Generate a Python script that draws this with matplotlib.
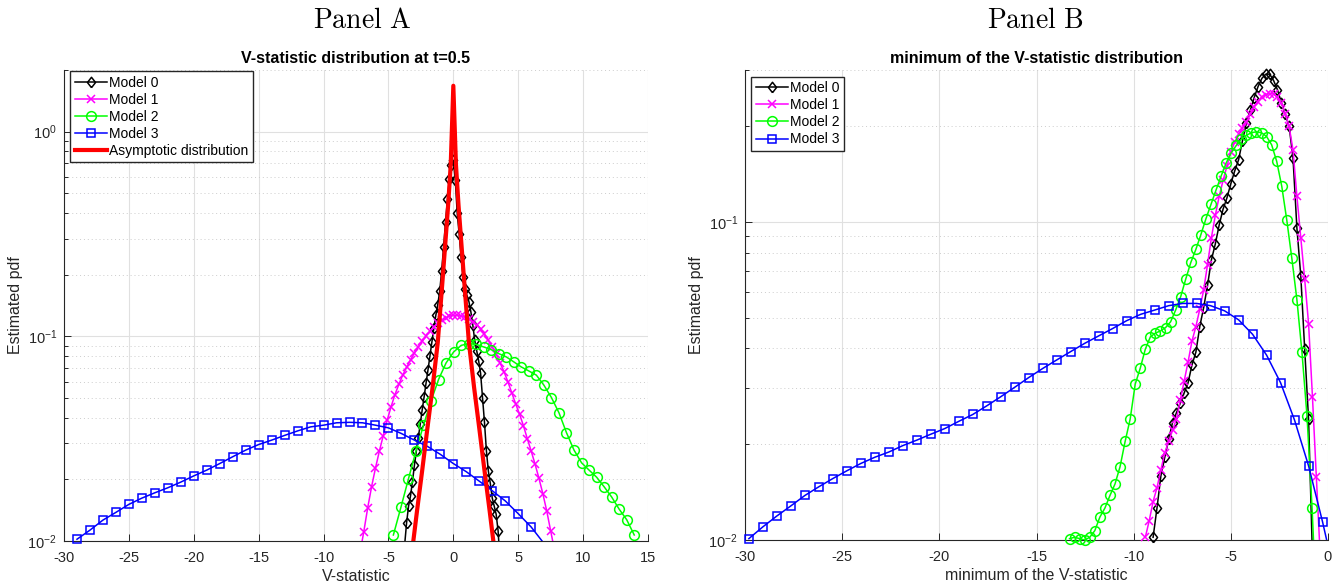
import numpy as np
import matplotlib
matplotlib.use('Agg')
import matplotlib.pyplot as plt
from matplotlib.lines import Line2D

plt.rcParams['font.family'] = ['Liberation Sans', 'DejaVu Sans']
plt.rcParams['axes.unicode_minus'] = False
plt.rcParams['mathtext.fontset'] = 'custom'
plt.rcParams['mathtext.rm'] = 'Liberation Sans'
plt.rcParams['mathtext.it'] = 'Liberation Sans:italic'
plt.rcParams['mathtext.bf'] = 'Liberation Sans:bold'

# ---------------- Panel A: V-statistic distribution at t=0.5 ----------------
a_x0 = [-3.75, -3.6, -3.45, -3.3, -3.15, -3.0, -2.85, -2.7, -2.55, -2.4, -2.25, -2.1,
        -1.95, -1.8, -1.65, -1.5, -1.35, -1.2, -1.05, -0.9, -0.75, -0.6, -0.45, -0.3,
        -0.15, 0.0, 0.15, 0.3, 0.45, 0.6, 0.75, 0.9, 1.05, 1.2, 1.35, 1.5, 1.65, 1.8,
        1.95, 2.1, 2.25, 2.4, 2.55, 2.7, 2.85, 3.0, 3.15, 3.3, 3.45, 3.6]
a_y0 = [0.0096, 0.0123, 0.0148, 0.0166, 0.0195, 0.0234, 0.0275, 0.0320, 0.0372, 0.0437,
        0.0507, 0.0592, 0.0687, 0.0804, 0.0940, 0.1096, 0.1265, 0.1429, 0.1660, 0.2089,
        0.2723, 0.3631, 0.4677, 0.5888, 0.6839, 0.7244, 0.5821, 0.3981, 0.3162, 0.2427,
        0.1950, 0.1698, 0.1585, 0.1479, 0.1318, 0.1135, 0.0955, 0.0851, 0.0759, 0.0661,
        0.0501, 0.0380, 0.0275, 0.0219, 0.0191, 0.0162, 0.0148, 0.0135, 0.0112, 0.0079]

a_x1 = [-7.2, -6.9, -6.6, -6.3, -6.0, -5.7, -5.4, -5.1, -4.8, -4.5, -4.2, -3.9, -3.6,
        -3.3, -3.0, -2.7, -2.4, -2.1, -1.8, -1.5, -1.2, -0.9, -0.6, -0.3, 0.0, 0.3, 0.6,
        0.9, 1.2, 1.5, 1.8, 2.1, 2.4, 2.7, 3.0, 3.3, 3.6, 3.9, 4.2, 4.5, 4.8, 5.1, 5.4,
        5.7, 6.0, 6.3, 6.6, 6.9, 7.2, 7.5, 7.8]
a_y1 = [0.0087, 0.0111, 0.0145, 0.0184, 0.0227, 0.0275, 0.0327, 0.0389, 0.0452, 0.0519,
        0.0582, 0.0646, 0.0705, 0.0767, 0.0828, 0.0887, 0.0944, 0.1007, 0.1059, 0.1109,
        0.1156, 0.1197, 0.1230, 0.1256, 0.1268, 0.1268, 0.1259, 0.1242, 0.1213, 0.1178,
        0.1138, 0.1084, 0.1023, 0.0955, 0.0887, 0.0817, 0.0741, 0.0673, 0.0600, 0.0531,
        0.0468, 0.0417, 0.0366, 0.0316, 0.0275, 0.0237, 0.0202, 0.0170, 0.0140, 0.0112,
        0.0090]

a_x2 = [-4.62, -4.04, -3.46, -2.88, -2.3, -1.72, -1.14, -0.56, 0.02, 0.6, 1.18, 1.76,
        2.34, 2.92, 3.5, 4.08, 4.66, 5.24, 5.82, 6.4, 6.98, 7.56, 8.14, 8.72, 9.3, 9.88,
        10.46, 11.04, 11.62, 12.2, 12.78, 13.36, 13.94]
a_y2 = [0.0107, 0.0146, 0.0201, 0.0275, 0.0368, 0.0483, 0.0615, 0.0741, 0.0838, 0.0903,
        0.0921, 0.0914, 0.0887, 0.0861, 0.0823, 0.0793, 0.0750, 0.0708, 0.0677, 0.0646,
        0.0577, 0.0502, 0.0423, 0.0338, 0.0278, 0.0241, 0.0222, 0.0205, 0.0184, 0.0164,
        0.0143, 0.0127, 0.0107]

a_x3 = [-29, -28, -27, -26, -25, -24, -23, -22, -21, -20, -19, -18, -17, -16, -15, -14,
        -13, -12, -11, -10, -9, -8, -7, -6, -5, -4, -3, -2, -1, 0, 1, 2, 3, 4, 5, 6, 7]
a_y3 = [0.0102, 0.0113, 0.01265, 0.0138, 0.0151, 0.0162, 0.0172, 0.0182, 0.0194, 0.0208,
        0.0222, 0.0239, 0.0258, 0.0278, 0.0296, 0.0311, 0.0328, 0.0345, 0.0361, 0.0368,
        0.0378, 0.0380, 0.0378, 0.0368, 0.0357, 0.0335, 0.0311, 0.0290, 0.0265, 0.0239,
        0.0218, 0.0196, 0.0176, 0.0157, 0.0136, 0.0117, 0.0097]

a_xr = [-3.2, -2.8, -2.4, -2.0, -1.6, -1.2, -0.8, -0.4, -0.2, 0.0, 0.2, 0.4, 0.8, 1.2,
        1.6, 2.0, 2.4, 2.8, 3.2]
a_yr = [0.0087, 0.0140, 0.0221, 0.0355, 0.0562, 0.0933, 0.1995, 0.4365, 0.692, 1.675,
        0.692, 0.4365, 0.1995, 0.0933, 0.0562, 0.0355, 0.0221, 0.0140, 0.0087]

# ---------------- Panel B: minimum of the V-statistic ----------------
b_x0 = [-9.0, -8.8, -8.6, -8.4, -8.2, -8.0, -7.8, -7.6, -7.4, -7.2, -7.0, -6.8, -6.6,
        -6.4, -6.2, -6.0, -5.8, -5.6, -5.4, -5.2, -5.0, -4.8, -4.6, -4.4, -4.2, -4.0,
        -3.8, -3.6, -3.4, -3.2, -3.0, -2.8, -2.6, -2.4, -2.2, -2.0, -1.8, -1.6, -1.4,
        -1.2, -1.0, -0.8]
b_y0 = [0.0102, 0.0126, 0.0159, 0.0182, 0.0207, 0.0234, 0.0251, 0.0269, 0.0290, 0.0312,
        0.0355, 0.0389, 0.0468, 0.0537, 0.0631, 0.0759, 0.0851, 0.0977, 0.1096, 0.1189,
        0.1318, 0.1445, 0.1567, 0.1799, 0.2042, 0.2239, 0.2455, 0.2661, 0.2825, 0.2911,
        0.2911, 0.2780, 0.2600, 0.2371, 0.2178, 0.1995, 0.1585, 0.0955, 0.0676, 0.0398,
        0.0240, 0.0089]

b_x1 = [-9.4, -9.2, -9.0, -8.8, -8.6, -8.4, -8.2, -8.0, -7.8, -7.6, -7.4, -7.2, -7.0,
        -6.8, -6.6, -6.4, -6.2, -6.0, -5.8, -5.6, -5.4, -5.2, -5.0, -4.8, -4.6, -4.4,
        -4.2, -4.0, -3.8, -3.6, -3.4, -3.2, -3.0, -2.8, -2.6, -2.4, -2.2, -2.0, -1.8,
        -1.6, -1.4, -1.2, -1.0, -0.8, -0.6, -0.4]
b_y1 = [0.0102, 0.0115, 0.0132, 0.0146, 0.0166, 0.0188, 0.0204, 0.0221, 0.0240, 0.0275,
        0.0316, 0.0363, 0.0422, 0.0468, 0.0531, 0.0610, 0.0733, 0.0891, 0.1047, 0.1202,
        0.1349, 0.1496, 0.1660, 0.1778, 0.1884, 0.1972, 0.2056, 0.2178, 0.2301, 0.2388,
        0.2472, 0.2512, 0.2529, 0.2523, 0.2466, 0.2355, 0.2188, 0.1995, 0.1679, 0.1202,
        0.0891, 0.0661, 0.0479, 0.0282, 0.0158, 0.0089]

b_x2 = [-13.3, -13.04, -12.78, -12.52, -12.26, -12.0, -11.74, -11.48, -11.22, -10.96,
        -10.7, -10.44, -10.18, -9.92, -9.66, -9.4, -9.14, -8.88, -8.62, -8.36, -8.1,
        -7.84, -7.58, -7.32, -7.06, -6.8, -6.54, -6.28, -6.02, -5.76, -5.5, -5.24, -4.98,
        -4.72, -4.46, -4.2, -3.94, -3.68, -3.42, -3.16, -2.9, -2.64, -2.38, -2.12, -1.86,
        -1.6, -1.34, -1.08, -0.82, -0.56]
b_y2 = [0.0101, 0.0102, 0.0101, 0.0100, 0.0102, 0.0107, 0.0118, 0.0126, 0.0138, 0.0150,
        0.0170, 0.0204, 0.0240, 0.0309, 0.0347, 0.0398, 0.0435, 0.0447, 0.0454, 0.0465,
        0.0485, 0.0528, 0.0582, 0.0661, 0.0745, 0.0819, 0.0912, 0.1023, 0.1135, 0.1259,
        0.1393, 0.1531, 0.1648, 0.1738, 0.1820, 0.1871, 0.1905, 0.1919, 0.1905, 0.1854,
        0.1746, 0.1549, 0.1294, 0.1012, 0.0767, 0.0569, 0.0389, 0.0245, 0.0126, 0.0056]

b_x3 = [-29.8, -29.08, -28.36, -27.64, -26.92, -26.2, -25.48, -24.76, -24.04, -23.32,
        -22.6, -21.88, -21.16, -20.44, -19.72, -19.0, -18.28, -17.56, -16.84, -16.12,
        -15.4, -14.68, -13.96, -13.24, -12.52, -11.8, -11.08, -10.36, -9.64, -8.92, -8.2,
        -7.48, -6.76, -6.04, -5.32, -4.6, -3.88, -3.16, -2.44, -1.72, -1.0, -0.28, 0.44]
b_y3 = [0.0101, 0.0110, 0.0119, 0.0128, 0.0138, 0.0147, 0.0156, 0.0165, 0.0174, 0.0182,
        0.0189, 0.0198, 0.0206, 0.0215, 0.0224, 0.0236, 0.0248, 0.0264, 0.0282, 0.0302,
        0.0324, 0.0346, 0.0368, 0.0391, 0.0415, 0.0438, 0.0462, 0.0489, 0.0512, 0.0528,
        0.0545, 0.0554, 0.0554, 0.0545, 0.0525, 0.0492, 0.0443, 0.0381, 0.0312, 0.0238,
        0.0171, 0.0114, 0.0073]

labels = ['Model 0', 'Model 1', 'Model 2', 'Model 3']
colors = ['#000000', '#ff00ff', '#00ff00', '#0000ff']
diamond = [(0, -1), (0.78, 0), (0, 1), (-0.78, 0), (0, -1)]
markers = [diamond, 'x', 'o', 's']
msizes = [7.5, 6, 7, 6]

INK = '#262626'


def draw(ax, x, y, i, xlim, ylim):
    x = np.asarray(x, float)
    y = np.asarray(y, float)
    ax.plot(x, y, color=colors[i], lw=1.1, zorder=3)
    # markers drawn like MATLAB: not cut by the axes box, only in-range points
    keep = (y >= ylim[0]) & (y <= ylim[1]) & (x >= xlim[0]) & (x <= xlim[1])
    ax.plot(x[keep], y[keep], ls='none', marker=markers[i], ms=msizes[i],
            mfc='none', mec=colors[i], mew=1.1, clip_on=False, zorder=3)
    return Line2D([], [], color=colors[i], lw=1.1, marker=markers[i],
                  ms=msizes[i], mfc='none', mec=colors[i], mew=1.1)


def style(ax, xlim, ylim, xticks, xlabel, title):
    ax.set_yscale('log')
    ax.set_xlim(xlim)
    ax.set_ylim(ylim)
    ax.set_xticks(xticks)
    ax.set_axisbelow(True)
    ax.grid(True, which='major', color='#e0e0e0', lw=0.8)
    ax.grid(True, which='minor', axis='y', color='#cccccc', ls=(0, (1, 3)), lw=0.7)
    for s in ['top', 'right']:
        ax.spines[s].set_visible(False)
    for s in ['left', 'bottom']:
        ax.spines[s].set_color(INK)
        ax.spines[s].set_linewidth(0.8)
    ax.tick_params(which='both', direction='in', colors=INK, labelsize=10.5, width=0.7)
    ax.tick_params(which='major', length=5)
    ax.tick_params(which='minor', length=3)
    ax.tick_params(axis='x', which='both', pad=7)
    ax.tick_params(axis='y', which='both', pad=5)
    ax.set_xlabel(xlabel, fontsize=11.5, color=INK, labelpad=3)
    ax.set_ylabel('Estimated pdf', fontsize=11.5, color=INK, labelpad=3)
    ax.set_title(title, fontsize=11.5, fontweight='bold', color='#000000', pad=5)


fig = plt.figure(figsize=(13.44, 5.87), dpi=100)
W, H = 1344, 587
ax1 = fig.add_axes([64 / W, 1 - 541 / H, (648 - 64) / W, (541 - 70) / H])
ax2 = fig.add_axes([745 / W, 1 - 540 / H, (1328 - 745) / W, (540 - 70) / H])

xl1, yl1 = (-30, 15), (0.01, 2.0)
style(ax1, xl1, yl1, range(-30, 16, 5), 'V-statistic',
      'V-statistic distribution at t=0.5')
h1 = [draw(ax1, x, y, i, xl1, yl1) for i, (x, y) in
      enumerate([(a_x0, a_y0), (a_x1, a_y1), (a_x2, a_y2), (a_x3, a_y3)])]
ax1.plot(a_xr, a_yr, color='#ff0000', lw=3, zorder=4)
h1.append(Line2D([], [], color='#ff0000', lw=3))
ax1.legend(h1, labels + ['Asymptotic distribution'], loc='upper left',
           bbox_to_anchor=(0.011, 0.997), borderaxespad=0, fontsize=10,
           fancybox=False, framealpha=1, edgecolor=INK, handlelength=2.3,
           handletextpad=0.2, labelspacing=0.22, borderpad=0.3)

xl2, yl2 = (-30, 0), (0.01, 0.3)
style(ax2, xl2, yl2, range(-30, 1, 5), 'minimum of the V-statistic',
      'minimum of the V-statistic distribution')
h2 = [draw(ax2, x, y, i, xl2, yl2) for i, (x, y) in
      enumerate([(b_x0, b_y0), (b_x1, b_y1), (b_x2, b_y2), (b_x3, b_y3)])]
ax2.legend(h2, labels, loc='upper left', bbox_to_anchor=(0.011, 0.985),
           borderaxespad=0, fontsize=10, fancybox=False, framealpha=1,
           edgecolor=INK, handlelength=2.3, handletextpad=0.2,
           labelspacing=0.22, borderpad=0.3)

fig.text(362 / W, 1 - 21 / H, r'$\mathrm{Panel\ A}$', math_fontfamily='cm',
         fontsize=20, ha='center', va='center')
fig.text(1035 / W, 1 - 21 / H, r'$\mathrm{Panel\ B}$', math_fontfamily='cm',
         fontsize=20, ha='center', va='center')

fig.savefig('out.png', dpi=100)
